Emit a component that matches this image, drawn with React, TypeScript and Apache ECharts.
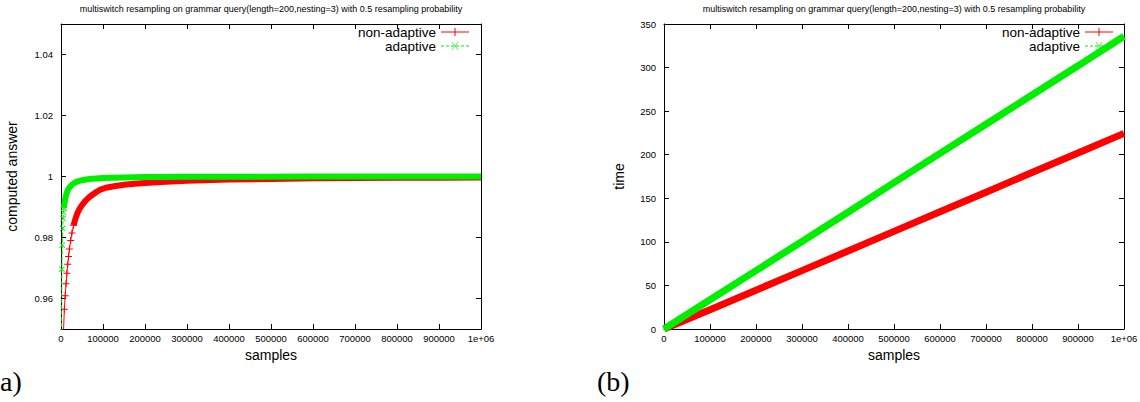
import React, { useEffect, useRef } from "react";
import * as echarts from "echarts";

const TITLE =
  "multiswitch resampling on grammar query(length=200,nesting=3) with 0.5 resampling probability";
const NAME_RED = "non-adaptive";
const NAME_GREEN = "adaptive";

// Left chart: computed answer vs samples
const answerSamplesRed = [
  6000, 8000, 10000, 12000, 14000, 16000, 18000, 20000, 23000, 26000, 30000, 34000, 38000,
  43000, 50000, 58000, 66000, 75000, 85000, 95000, 110000, 130000, 150000, 175000, 200000,
  250000, 300000, 400000, 500000, 600000, 700000, 800000, 900000, 1000000,
];
const answerValuesRed = [
  0.9495, 0.9565, 0.9609, 0.9648, 0.9683, 0.9712, 0.9738, 0.9762, 0.979, 0.9815, 0.984, 0.986,
  0.9876, 0.9891, 0.9906, 0.992, 0.9931, 0.994, 0.995, 0.9958, 0.9964, 0.9969, 0.9973, 0.9976,
  0.9979, 0.9983, 0.9986, 0.999, 0.9992, 0.9994, 0.9995, 0.9996, 0.9996, 0.9997,
];
const answerSamplesGreen = [
  1000, 2000, 3000, 4000, 5000, 6000, 7000, 8000, 10000, 12000, 14000, 17000, 20000, 24000,
  28000, 33000, 40000, 50000, 60000, 75000, 100000, 150000, 200000, 300000, 400000, 600000,
  800000, 1000000,
];
const answerValuesGreen = [
  0.935, 0.9696, 0.9775, 0.983, 0.9862, 0.9882, 0.9897, 0.991, 0.9926, 0.9938, 0.9947, 0.9957,
  0.9964, 0.997, 0.9975, 0.998, 0.9984, 0.9988, 0.999, 0.9993, 0.9995, 0.9997, 0.9998, 0.9999,
  0.9999, 1.0, 1.0, 1.0,
];

// Right chart: time vs samples
const timeSamples = [0, 100000, 200000, 300000, 400000, 500000, 600000, 700000, 800000, 900000, 1000000];
const timeValuesRed = [0, 22, 44.5, 67, 89.5, 112, 134.5, 157, 179.5, 202, 224.5];
const timeValuesGreen = [0, 33.5, 67, 100.5, 134, 168, 201.5, 235, 268.5, 302, 336];

const answerTicks = [0.96, 0.98, 1, 1.02, 1.04];
const panelLabels = ["a)", "(b)"];

const RED = "#ff0000";
const GREEN = "#00ee00";
const FONT = "'Liberation Sans', Arial, sans-serif";
const SERIF = "'Liberation Serif', 'DejaVu Serif', serif";

const PLUS = "path://M0,3h7v1h-7z M3,0h1v7h-1z";
const CROSS = "path://M0,0.7L0.7,0L7,6.3L6.3,7Z M6.3,0L7,0.7L0.7,7L0,6.3Z";
const LEG_RED = "path://M0,4h28v1h-28z M13.5,0.5h1v8h-1z";
const LEG_GREEN =
  "path://M0,4h3v1h-3z M5,4h3v1h-3z M10,4h3v1h-3z M15,4h3v1h-3z M20,4h3v1h-3z M25,4h3v1h-3z M10.5,0.5L11.2,0.5L17.5,8.5L16.8,8.5Z M16.8,0.5L17.5,0.5L11.2,8.5L10.5,8.5Z";

// where the gnuplot markers merge into a solid band
const RED_BAND_FROM = 30000;
const GREEN_BAND_FROM = 7000;

const zip = (xs: number[], ys: number[]) => xs.map((x, i) => [x, ys[i]]);

const G0 = { left: 61, top: 24, width: 420, height: 305 };
const G1 = { left: 664, top: 24, width: 460, height: 305 };

function xAxes(gridIndex: number) {
  const base = {
    type: "value",
    gridIndex,
    min: 0,
    max: 1000000,
    interval: 100000,
    splitLine: { show: false },
    axisLine: { show: true, onZero: false, lineStyle: { color: "#000", width: 1 } },
    axisTick: { show: true, inside: true, length: 5, lineStyle: { color: "#000" } },
  };
  return [
    {
      ...base,
      position: "bottom",
      name: "samples",
      nameLocation: "middle",
      nameGap: 18,
      nameTextStyle: { fontFamily: FONT, fontSize: 14, color: "#000" },
      axisLabel: {
        fontFamily: FONT,
        fontSize: 9.5,
        color: "#000",
        margin: 4,
        formatter: (v: number) => (v === 1000000 ? "1e+06" : String(v)),
      },
    },
    { ...base, position: "top", axisLabel: { show: false } },
  ];
}

export default function App() {
  const ref = useRef<HTMLDivElement>(null);
  useEffect(() => {
    if (!ref.current) return;
    const chart = echarts.init(ref.current, null, { renderer: "svg" });
    const redData = zip(answerSamplesRed, answerValuesRed);
    const greenData = zip(answerSamplesGreen, answerValuesGreen);
    const yLine = { show: true, onZero: false, lineStyle: { color: "#000", width: 1 } };
    const yTick = { show: true, inside: true, length: 5, lineStyle: { color: "#000" } };
    const yLabel = { fontFamily: FONT, fontSize: 9.5, color: "#000", margin: 8 };
    const legendBase = {
      orient: "vertical",
      align: "right",
      top: 25,
      itemGap: 0,
      itemWidth: 28,
      itemHeight: 8,
      padding: 0,
      itemStyle: { borderWidth: 0 },
      textStyle: { fontFamily: FONT, fontSize: 13.5, color: "#000", lineHeight: 12 },
      data: [
        { name: NAME_RED, icon: LEG_RED },
        { name: NAME_GREEN, icon: LEG_GREEN },
      ],
    };
    const titleText = (x: number) => ({
      type: "text",
      x,
      y: 9,
      style: {
        text: TITLE,
        textAlign: "center",
        textVerticalAlign: "middle",
        fontFamily: FONT,
        fontSize: 9,
        fill: "#000",
      },
    });
    const panelText = (x: number, text: string) => ({
      type: "text",
      x,
      y: 381,
      style: {
        text,
        textAlign: "left",
        textVerticalAlign: "middle",
        fontFamily: SERIF,
        fontSize: 28,
        fill: "#000",
      },
    });
    const option: any = {
      animation: false,
      backgroundColor: "#fff",
      grid: [
        { ...G0, outerBoundsMode: "none" },
        { ...G1, outerBoundsMode: "none" },
      ],
      legend: [
        { ...legendBase, right: 1140 - 469 },
        { ...legendBase, right: 1140 - 1113 },
      ],
      xAxis: [...xAxes(0), ...xAxes(1)],
      yAxis: [
        {
          type: "value",
          gridIndex: 0,
          position: "left",
          min: 0.95,
          max: 1.05,
          splitLine: { show: false },
          axisLine: yLine,
          axisTick: { ...yTick, customValues: answerTicks },
          axisLabel: {
            ...yLabel,
            customValues: answerTicks,
            formatter: (v: number) => String(Math.round(v * 100) / 100),
          },
          name: "computed answer",
          nameLocation: "middle",
          nameGap: 42,
          nameTextStyle: { fontFamily: FONT, fontSize: 14, color: "#000" },
        },
        {
          type: "value",
          gridIndex: 0,
          position: "right",
          min: 0.95,
          max: 1.05,
          splitLine: { show: false },
          axisLine: yLine,
          axisTick: { ...yTick, customValues: answerTicks },
          axisLabel: { show: false },
        },
        {
          type: "value",
          gridIndex: 1,
          position: "left",
          min: 0,
          max: 350,
          interval: 50,
          splitLine: { show: false },
          axisLine: yLine,
          axisTick: yTick,
          axisLabel: yLabel,
          name: "time",
          nameLocation: "middle",
          nameGap: 38,
          nameTextStyle: { fontFamily: FONT, fontSize: 14, color: "#000" },
        },
        {
          type: "value",
          gridIndex: 1,
          position: "right",
          min: 0,
          max: 350,
          interval: 50,
          splitLine: { show: false },
          axisLine: yLine,
          axisTick: yTick,
          axisLabel: { show: false },
        },
      ],
      series: [
        {
          name: NAME_RED,
          type: "line",
          xAxisIndex: 0,
          yAxisIndex: 0,
          data: redData.filter((d) => d[0] <= RED_BAND_FROM),
          symbol: PLUS,
          symbolSize: 7,
          showAllSymbol: true,
          itemStyle: { color: RED },
          lineStyle: { color: RED, width: 1 },
          silent: true,
        },
        {
          name: NAME_RED,
          type: "line",
          xAxisIndex: 0,
          yAxisIndex: 0,
          data: redData.filter((d) => d[0] >= RED_BAND_FROM),
          showSymbol: false,
          itemStyle: { color: RED },
          lineStyle: { color: RED, width: 6 },
          silent: true,
        },
        {
          name: NAME_GREEN,
          type: "line",
          xAxisIndex: 0,
          yAxisIndex: 0,
          data: greenData.filter((d) => d[0] <= GREEN_BAND_FROM),
          symbol: CROSS,
          symbolSize: 6,
          showAllSymbol: true,
          itemStyle: { color: GREEN },
          lineStyle: { color: GREEN, width: 1, type: [4, 2] },
          silent: true,
        },
        {
          name: NAME_GREEN,
          type: "line",
          xAxisIndex: 0,
          yAxisIndex: 0,
          data: greenData.filter((d) => d[0] >= GREEN_BAND_FROM),
          showSymbol: false,
          itemStyle: { color: GREEN },
          lineStyle: { color: GREEN, width: 6 },
          silent: true,
        },
        {
          name: NAME_RED,
          type: "line",
          xAxisIndex: 2,
          yAxisIndex: 2,
          data: zip(timeSamples, timeValuesRed),
          showSymbol: false,
          itemStyle: { color: RED },
          lineStyle: { color: RED, width: 7 },
          silent: true,
        },
        {
          name: NAME_GREEN,
          type: "line",
          xAxisIndex: 2,
          yAxisIndex: 2,
          data: zip(timeSamples, timeValuesGreen),
          showSymbol: false,
          itemStyle: { color: GREEN },
          lineStyle: { color: GREEN, width: 7 },
          silent: true,
        },
      ],
      graphic: [
        titleText(G0.left + G0.width / 2),
        titleText(G1.left + G1.width / 2),
        panelText(0, panelLabels[0]),
        panelText(597, panelLabels[1]),
      ],
    };
    chart.setOption(option);
    return () => chart.dispose();
  }, []);
  return (
    <div
      ref={ref}
      style={{ position: "absolute", left: 0, top: 0, width: 1140, height: 402, background: "#fff" }}
    />
  );
}
